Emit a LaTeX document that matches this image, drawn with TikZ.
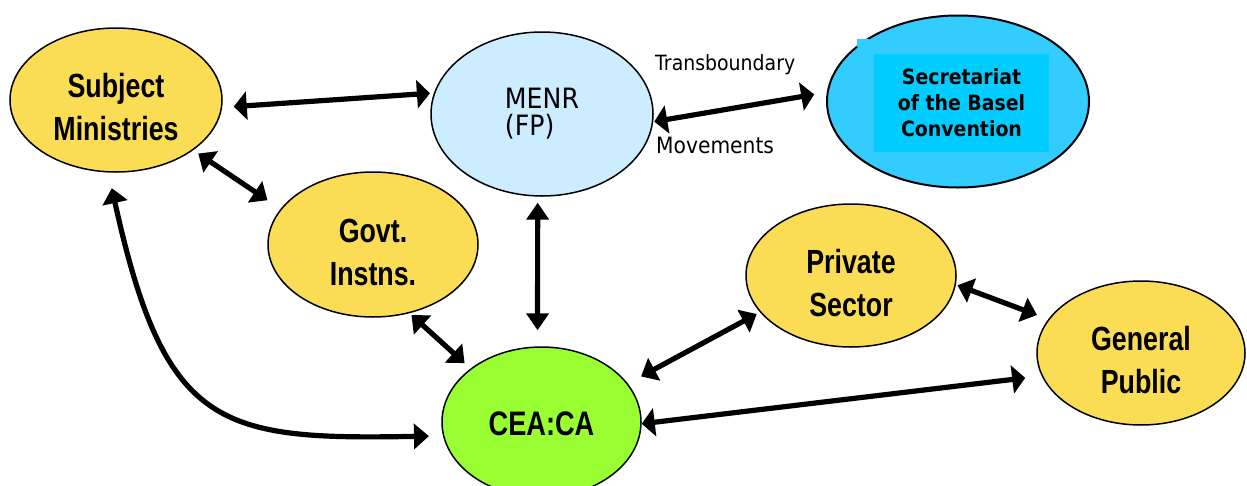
\documentclass[tikz,border=0pt]{standalone}
\usepackage{fontspec}
\usetikzlibrary{shapes.geometric,arrows.meta}
\newfontfamily\narrowfont[FakeStretch=0.8]{Liberation Sans}
\newfontfamily\tahfont[FakeStretch=0.9]{DejaVu Sans}
\definecolor{ylw}{RGB}{250,221,85}
\definecolor{lblue}{RGB}{204,236,255}
\definecolor{cyanA}{RGB}{51,204,255}
\definecolor{cyanB}{RGB}{0,204,255}
\definecolor{lgreen}{RGB}{153,255,51}
\begin{document}
\begin{tikzpicture}[x=1pt,y=-1pt,
  ell/.style={ellipse, draw=black, line width=1.5pt, inner sep=0pt, align=center},
  yel/.style={ell, fill=ylw, text height=81pt, text depth=0pt, font=\narrowfont\bfseries\fontsize{33.5}{43}\selectfont},
  dbl/.style={line width=5.2pt, {Triangle[length=15pt,width=25pt]}-{Triangle[length=15pt,width=25pt]}},
  dblh/.style={line width=5.2pt, {Triangle[length=13pt,width=28pt]}-{Triangle[length=13pt,width=28pt]}},
  dblv/.style={line width=5.2pt, {Triangle[length=17pt,width=22pt]}-{Triangle[length=17pt,width=22pt]}},
  lbl/.style={inner sep=0pt, font=\tahfont\fontsize{21}{25}\selectfont}
]
\useasboundingbox (0,0) rectangle (1247,485);

% nodes
\node[yel, minimum width=212pt, minimum height=144pt] (sm) at (116,100) {Subject\\Ministries};
\node[ell, fill=lblue, minimum width=222pt, minimum height=164pt,
      font=\tahfont\fontsize{28}{27}\selectfont, align=left] (menr) at (542,114) {MENR\\(FP)};
\node[ell, fill=cyanA, line width=2pt, minimum width=262pt, minimum height=172pt] (sec) at (958,101.5) {};
\node[fill=cyanB, minimum width=175pt, minimum height=98pt, inner sep=0pt, align=center,
      font=\tahfont\bfseries\fontsize{21}{26}\selectfont] (sect) at (961.5,103) {Secretariat\\of the Basel\\Convention};
\fill[cyanA] (857,39) rectangle (869,47);
\node[yel, minimum width=210pt, minimum height=145pt] (govt) at (373,244.5) {Govt.\\Instns.};
\node[yel, minimum width=210pt, minimum height=143pt] (ps) at (851,275.5) {Private\\Sector};
\node[yel, minimum width=208pt, minimum height=144pt] (gp) at (1141,353) {General\\Public};
\node[ell, fill=lgreen, minimum width=199pt, minimum height=150pt, text height=28pt,
      font=\narrowfont\bfseries\fontsize{34}{43}\selectfont] (cea) at (541.5,422) {CEA:CA};

% labels
\node[lbl, anchor=base west] (tb) at (655,70) {Transboundary};
\node[lbl, font=\tahfont\fontsize{22.5}{27}\selectfont, anchor=base west] (mv) at (656,153) {Movements};

% connectors
\draw[dblh, shorten <=11.6pt, shorten >=4pt] (sm.356) -- (menr.169);
\draw[dblh, shorten <=1pt, shorten >=12.7pt] (menr.-4) -- (sec.176);
\draw[dbl, shorten <=6pt, shorten >=15.7pt] (sm.-33) -- (govt.159);
\draw[dbl, shorten <=16pt, shorten >=14pt] (sm.264) .. controls (165,430) and (220,440) .. (cea.188);
\draw[dbl, shorten <=2.6pt, shorten >=8pt] (govt.-62) -- (cea.143);
\draw[dblv, shorten <=6pt, shorten >=16pt] (menr.267) -- (cea.93);
\draw[dbl, shorten <=15pt, shorten >=3.7pt] (cea.24) -- (ps.202);
\draw[dblh, shorten >=16.5pt] (cea.-1) -- (gp.193);
\draw[dbl, shorten <=1.7pt, shorten >=12pt] (ps.-5) -- (gp.160);
\end{tikzpicture}
\end{document}
